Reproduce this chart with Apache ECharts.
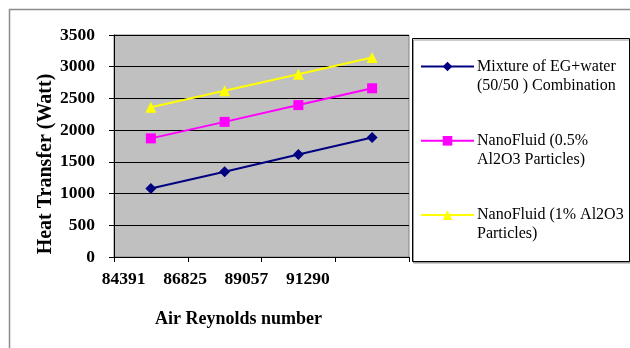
<!DOCTYPE html>
<html>
<head>
<meta charset="utf-8">
<script src="https://cdn.jsdelivr.net/npm/echarts@6/dist/echarts.min.js"></script>
<style>
html,body{margin:0;padding:0;background:#fff;}
#c{width:630px;height:348px;}
</style>
</head>
<body>
<div id="c"></div>
<script>
var categories = ['84391', '86825', '89057', '91290'];
var mixtureEG = [1080, 1345, 1615, 1885];
var nano05 = [1870, 2130, 2395, 2660];
var nano1 = [2360, 2620, 2880, 3145];
var seriesNames = ['Mixture of EG+water', 'NanoFluid (0.5%', 'NanoFluid (1% Al2O3'];
var legendLabels = {
  'Mixture of EG+water': 'Mixture of EG+water\n(50/50 ) Combination',
  'NanoFluid (0.5%': 'NanoFluid (0.5%\nAl2O3 Particles)',
  'NanoFluid (1% Al2O3': 'NanoFluid (1% Al2O3\nParticles)'
};
var yTicks = { min: 0, max: 3500, interval: 500 };

var serif = '"Liberation Serif", "Times New Roman", serif';
var chart = echarts.init(document.getElementById('c'));
chart.setOption({
  animation: false,
  backgroundColor: '#fff',
  graphic: [
    { type: 'rect', left: 7, top: 7, shape: { width: 700, height: 400 }, style: { fill: 'none', stroke: '#8c8c8c', lineWidth: 1.5 }, z: -10 },
    { type: 'rect', left: 412, top: 38, shape: { width: 217, height: 223 }, style: { fill: '#fff', stroke: '#000', lineWidth: 1, shadowColor: '#999', shadowOffsetX: 1, shadowOffsetY: 1.5, shadowBlur: 0 }, z: -5 }
  ],
  grid: [
    { left: 114, top: 35, width: 295, height: 222, show: true, backgroundColor: '#c0c0c0', borderColor: '#808080', borderWidth: 1 },
    { left: 93, top: 35, width: 245.5, height: 222, show: false }
  ],
  legend: {
    orient: 'vertical',
    left: 420,
    top: 38,
    padding: 0,
    itemGap: 17.3,
    itemWidth: 53,
    itemHeight: 12,
    data: seriesNames,
    lineStyle: { width: 2 },
    formatter: function (n) { return ' \n' + legendLabels[n]; },
    textStyle: { fontFamily: serif, fontSize: 16, lineHeight: 19, color: '#000', padding: [0, 0, 0, -2] }
  },
  xAxis: [
    {
      type: 'category', gridIndex: 0, data: categories, boundaryGap: true,
      axisLine: { lineStyle: { color: '#000', width: 1 } },
      axisTick: { show: true, length: 5, interval: 0, lineStyle: { color: '#000' } },
      axisLabel: { show: false },
      name: 'Air Reynolds number', nameLocation: 'middle', nameGap: 53,
      nameTextStyle: { fontFamily: serif, fontSize: 18, fontWeight: 'bold', color: '#000', padding: [0, 46, 0, 0] }
    },
    {
      type: 'category', gridIndex: 1, data: categories, boundaryGap: true,
      axisLine: { show: false }, axisTick: { show: false }, splitLine: { show: false },
      axisLabel: { interval: 0, margin: 13, fontFamily: serif, fontSize: 17.5, fontWeight: 'bold', color: '#000' }
    }
  ],
  yAxis: [
    {
      type: 'value', gridIndex: 0, min: yTicks.min, max: yTicks.max, interval: yTicks.interval,
      axisLine: { show: true, lineStyle: { color: '#000', width: 1 } },
      axisTick: { show: true, length: 5, lineStyle: { color: '#000' } },
      splitLine: { lineStyle: { color: '#000', width: 1 } },
      axisLabel: { margin: 19, fontFamily: serif, fontSize: 17.5, fontWeight: 'bold', color: '#000',
        formatter: function (v) { return String(v); } },
      name: 'Heat Transfer (Watt)', nameLocation: 'middle', nameGap: 56,
      nameTextStyle: { fontFamily: serif, fontSize: 20, fontWeight: 'bold', color: '#000', padding: [0, 36, 0, 0] }
    },
    { type: 'value', gridIndex: 1, show: false, min: 0, max: 3500 }
  ],
  series: [
    { name: seriesNames[0], type: 'line', data: mixtureEG, symbol: 'diamond', symbolSize: 11,
      lineStyle: { color: '#000080', width: 2 }, itemStyle: { color: '#000080' } },
    { name: seriesNames[1], type: 'line', data: nano05, symbol: 'rect', symbolSize: 10,
      lineStyle: { color: '#ff00ff', width: 2 }, itemStyle: { color: '#ff00ff' } },
    { name: seriesNames[2], type: 'line', data: nano1, symbol: 'triangle', symbolSize: 11,
      lineStyle: { color: '#ffff00', width: 2 }, itemStyle: { color: '#ffff00' } }
  ]
});
</script>
</body>
</html>
